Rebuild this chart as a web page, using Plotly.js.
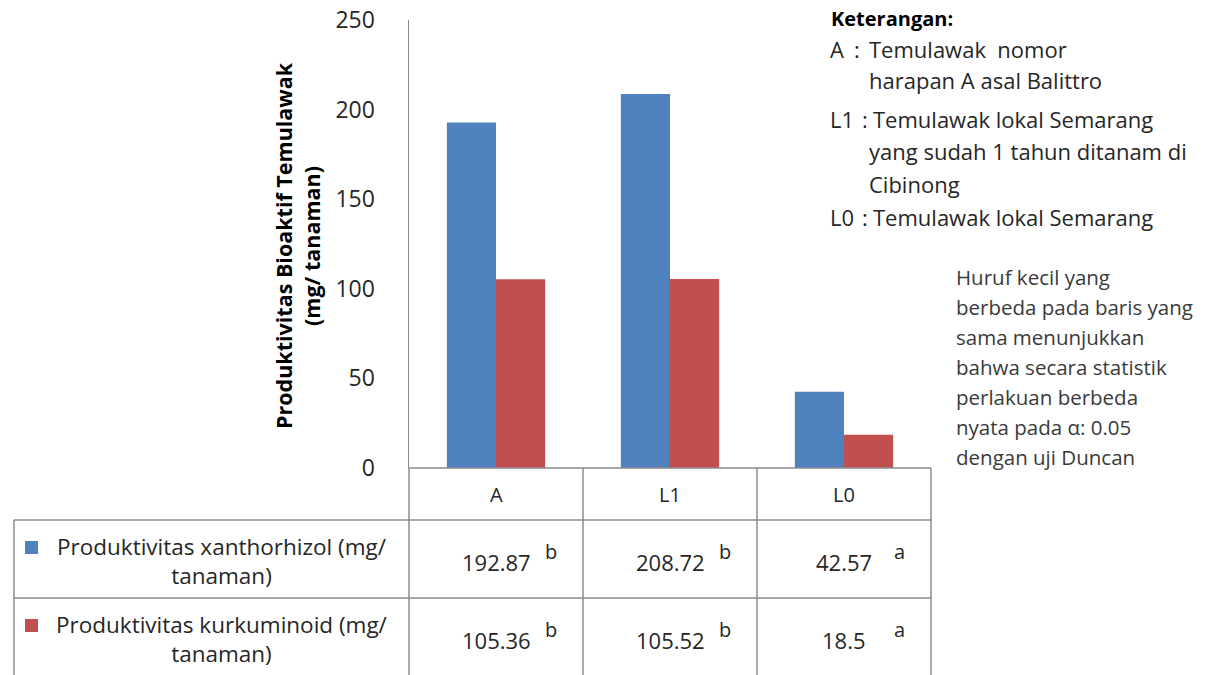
<!DOCTYPE html>
<html>
<head>
<meta charset="utf-8">
<script src="https://cdn.plot.ly/plotly-3.0.1.min.js"></script>
<style>html,body{margin:0;padding:0;background:#fff;}#chart{width:1217px;height:675px;}</style>
</head>
<body>
<div id="chart"></div>
<script>
// ---- data ----
const categories = ['A', 'L1', 'L0'];
const xanthorhizol = [192.87, 208.72, 42.57];
const kurkuminoid = [105.36, 105.52, 18.5];
const xanthorhizolLetters = ['b', 'b', 'a'];
const kurkuminoidLetters = ['b', 'b', 'a'];
const seriesNames = ['Produktivitas xanthorhizol (mg/<br>tanaman)', 'Produktivitas kurkuminoid (mg/<br>tanaman)'];
const yTicks = [0, 50, 100, 150, 200, 250];
const yTitle = 'Produktivitas Bioaktif Temulawak<br>(mg/ tanaman)';
const keterangan = [
  ['Keterangan:', ''],
  ['A', 'Temulawak  nomor'],
  ['', 'harapan A asal Balittro'],
  ['L1', 'Temulawak lokal Semarang'],
  ['', 'yang sudah 1 tahun ditanam di'],
  ['', 'Cibinong'],
  ['L0', 'Temulawak lokal Semarang']
];
const catatan = ['Huruf kecil yang', 'berbeda pada baris yang', 'sama menunjukkan',
  'bahwa secara statistik', 'perlakuan berbeda', 'nyata pada \u03b1: 0.05', 'dengan uji Duncan'];

// ---- geometry helpers (pixels -> paper) ----
const W = 1217, H = 675;
const px = x => x / W;
const py = y => 1 - y / H;
const colors = ['#4F81BD', '#C0504D'];
const FONT = 'Open Sans, sans-serif';
const TXT = '#262626';
const LINE = '#8C8C8C';

const plotL = 409, plotR = 931, plotT = 20, plotB = 468;
const colEdges = [409, 583, 757, 931];
const rowEdges = [468, 520, 598, 700];
const tableLeft = 14;

const traces = [
  {type: 'bar', x: categories, y: xanthorhizol, name: seriesNames[0], marker: {color: colors[0]}, hoverinfo: 'skip'},
  {type: 'bar', x: categories, y: kurkuminoid, name: seriesNames[1], marker: {color: colors[1]}, hoverinfo: 'skip'}
];

const shapes = [];
const annotations = [];
const L = (x0, y0, x1, y1) => shapes.push({type: 'line', xref: 'paper', yref: 'paper',
  x0: px(x0), y0: py(y0), x1: px(x1), y1: py(y1), line: {color: LINE, width: 1.5}});

// table grid
L(colEdges[0], rowEdges[0], colEdges[3], rowEdges[0]);
L(tableLeft, rowEdges[1], colEdges[3], rowEdges[1]);
L(tableLeft, rowEdges[2], colEdges[3], rowEdges[2]);
L(tableLeft, rowEdges[1], tableLeft, H);
colEdges.forEach(c => L(c, rowEdges[0], c, H));

// header row with categories
categories.forEach((c, i) => {
  const cx = (colEdges[i] + colEdges[i + 1]) / 2;
  annotations.push({xref: 'paper', yref: 'paper', x: px(cx), y: py(495), text: c, showarrow: false,
    xanchor: 'center', yanchor: 'middle', font: {family: FONT, size: 20, color: TXT}});
});

// data rows
const rows = [[xanthorhizol, xanthorhizolLetters], [kurkuminoid, kurkuminoidLetters]];
rows.forEach((r, ri) => {
  const yTop = rowEdges[ri + 1];
  // legend key
  shapes.push({type: 'rect', xref: 'paper', yref: 'paper', x0: px(25), x1: px(38),
    y0: py(yTop + 21), y1: py(yTop + 34), fillcolor: colors[ri], line: {width: 0}});
  annotations.push({xref: 'paper', yref: 'paper', x: px(222), y: py(yTop + 41), text: seriesNames[ri],
    showarrow: false, xanchor: 'center', yanchor: 'middle', align: 'center',
    font: {family: FONT, size: 22.5, color: TXT}});
  r[0].forEach((v, i) => {
    const cx = (colEdges[i] + colEdges[i + 1]) / 2;
    annotations.push({xref: 'paper', yref: 'paper', x: px(cx), y: py(yTop + 42), text: String(v),
      showarrow: false, xanchor: 'center', yanchor: 'middle', font: {family: FONT, size: 22, color: TXT}});
    annotations.push({xref: 'paper', yref: 'paper', x: px(cx + 55), y: py(yTop + 31), text: r[1][i],
      showarrow: false, xanchor: 'center', yanchor: 'middle', font: {family: FONT, size: 20, color: TXT}});
  });
});

// y axis title
annotations.push({xref: 'paper', yref: 'paper', x: px(297), y: py(246), text: '<b>' + yTitle.replace('<br>', '</b><br><b>') + '</b>',
  textangle: -90, showarrow: false, xanchor: 'center', yanchor: 'middle', align: 'center',
  font: {family: FONT, size: 21.5, color: '#000'}});

// keterangan block
const ketY = [19, 49, 80, 119, 151, 184, 217];
keterangan.forEach((k, i) => {
  if (i === 0) {
    annotations.push({xref: 'paper', yref: 'paper', x: px(829), y: py(ketY[i]), text: '<b>' + k[0] + '</b>',
      showarrow: false, xanchor: 'left', yanchor: 'middle', font: {family: FONT, size: 20, color: '#000'}});
    return;
  }
  if (k[0]) {
    annotations.push({xref: 'paper', yref: 'paper', x: px(828), y: py(ketY[i]), text: k[0],
      showarrow: false, xanchor: 'left', yanchor: 'middle', font: {family: FONT, size: 22, color: TXT}});
    annotations.push({xref: 'paper', yref: 'paper', x: px(k[0].length > 1 ? 860 : 852), y: py(ketY[i]), text: ':',
      showarrow: false, xanchor: 'left', yanchor: 'middle', font: {family: FONT, size: 22, color: TXT}});
  }
  annotations.push({xref: 'paper', yref: 'paper', x: px(k[0].length > 1 ? 871 : 867), y: py(ketY[i]), text: k[1],
    showarrow: false, xanchor: 'left', yanchor: 'middle', font: {family: FONT, size: 22, color: TXT}});
});

// note block
catatan.forEach((t, i) => {
  annotations.push({xref: 'paper', yref: 'paper', x: px(954), y: py(277 + i * 30), text: t,
    showarrow: false, xanchor: 'left', yanchor: 'middle', font: {family: FONT, size: 20.5, color: '#3a3a3a'}});
});

const layout = {
  width: W, height: H,
  margin: {l: 0, r: 0, t: 0, b: 0},
  paper_bgcolor: '#fff', plot_bgcolor: '#fff',
  showlegend: false,
  barmode: 'group', bargap: 0.435, bargroupgap: 0,
  xaxis: {domain: [px(plotL), px(plotR)], range: [-0.5, 2.5], type: 'category',
    showticklabels: false, showgrid: false, zeroline: false, showline: false, ticks: ''},
  yaxis: {domain: [py(plotB), py(plotT)], range: [0, 250], tickvals: yTicks,
    showgrid: false, zeroline: false, showline: true, linecolor: LINE, linewidth: 1.5,
    ticks: '', ticklabelstandoff: 28, tickfont: {family: FONT, size: 23, color: TXT}},
  shapes: shapes,
  annotations: annotations
};

Plotly.newPlot('chart', traces, layout, {displayModeBar: false, staticPlot: true});
</script>
</body>
</html>
